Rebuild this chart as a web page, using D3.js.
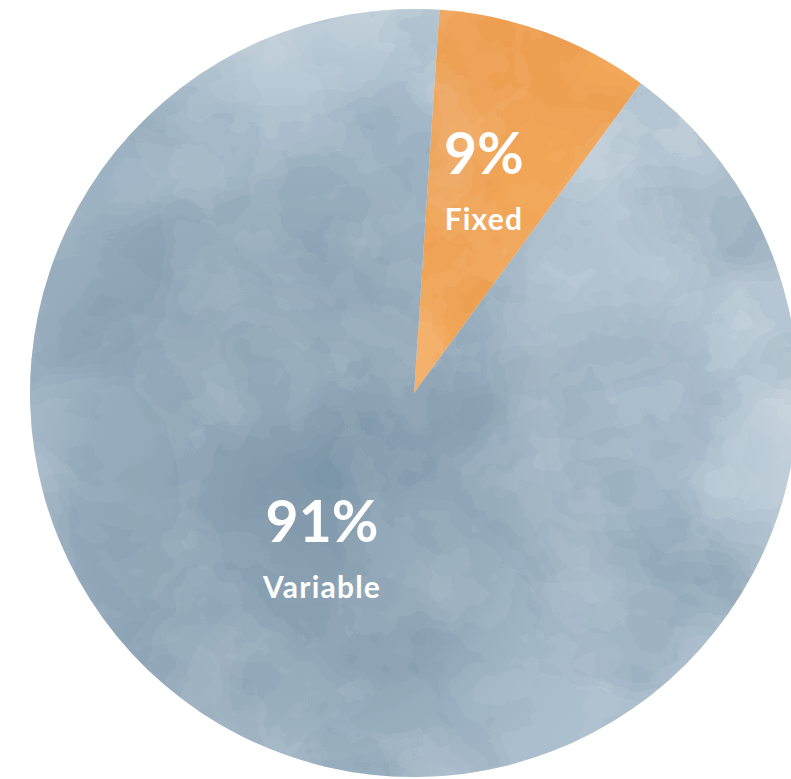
<!DOCTYPE html>
<html>
<head>
<meta charset="utf-8">
<title>Fixed vs Variable</title>
<script src="https://d3js.org/d3.v7.min.js"></script>
<style>
  body { margin: 0; background: #fff; }
  svg { display: block; }
  .pct { font-family: Lato, "Noto Sans", sans-serif; font-weight: 700; fill: #fff; }
  .name { font-family: Lato, "Noto Sans", sans-serif; font-weight: 700; fill: #fff; }
</style>
</head>
<body>
<script>
// data
const slices = ["Fixed", "Variable"];
const shares = [9, 91];
const sliceColors = ["#f2a85b", "#a8bccb"];
const blotchColors = ["#dc7e2e", "#5f7e95"];

const width = 791, height = 779;
const cx = 414, cy = 393, radius = 384;
const rotate = 3.8 * Math.PI / 180;           // where the first slice starts
const labelPos = [{ r: 230, a: 17.7 }, { r: 175, a: 211.7 }]; // baseline of the % line

const svg = d3.select("body").append("svg")
    .attr("width", width)
    .attr("height", height);

const defs = svg.append("defs");

// watercolour blotches: posterised noise used as alpha
function blotchFilter(id, color, seed, freq, table) {
  const f = defs.append("filter").attr("id", id)
      .attr("filterUnits", "userSpaceOnUse")
      .attr("x", cx - radius).attr("y", cy - radius)
      .attr("width", radius * 2).attr("height", radius * 2);
  f.append("feTurbulence").attr("type", "fractalNoise")
      .attr("baseFrequency", freq).attr("numOctaves", 5).attr("seed", seed).attr("result", "n");
  f.append("feColorMatrix").attr("in", "n").attr("type", "matrix")
      .attr("values", "0 0 0 0 0  0 0 0 0 0  0 0 0 0 0  1.6 0 0 0 -0.3").attr("result", "m");
  f.append("feComponentTransfer").attr("in", "m").attr("result", "p")
      .append("feFuncA").attr("type", "discrete").attr("tableValues", table);
  f.append("feFlood").attr("flood-color", color).attr("result", "c");
  f.append("feComposite").attr("in", "c").attr("in2", "p").attr("operator", "in");
}

blotchFilter("dark0", blotchColors[0], 12, "0.006 0.008", "0 0 0.06 0.12 0.18 0.24 0.3");
blotchFilter("light0", "#ffffff", 32, "0.008 0.007", "0 0 0 0.05 0.1 0.14");
blotchFilter("dark1", blotchColors[1], 11, "0.0045 0.006", "0 0 0.07 0.14 0.2 0.26 0.32 0.38");
blotchFilter("light1", "#ffffff", 31, "0.006 0.005", "0 0 0 0.05 0.1 0.14 0.18");

// big-scale shading: darker lower left centre, paler towards the right
const shade = defs.append("radialGradient").attr("id", "shade")
    .attr("gradientUnits", "userSpaceOnUse")
    .attr("cx", 290).attr("cy", 500).attr("r", 520);
shade.append("stop").attr("offset", "0%").attr("stop-color", "#4a667c").attr("stop-opacity", 0.3);
shade.append("stop").attr("offset", "40%").attr("stop-color", "#4a667c").attr("stop-opacity", 0.18);
shade.append("stop").attr("offset", "75%").attr("stop-color", "#ffffff").attr("stop-opacity", 0.04);
shade.append("stop").attr("offset", "100%").attr("stop-color", "#ffffff").attr("stop-opacity", 0.32);

const pie = d3.pie().sort(null)
    .startAngle(rotate).endAngle(rotate + 2 * Math.PI);
const arcs = pie(shares);
const arc = d3.arc().innerRadius(0).outerRadius(radius);

const g = svg.append("g").attr("transform", `translate(${cx},${cy})`);

arcs.forEach((d, i) => {
  defs.append("clipPath").attr("id", "clip" + i)
    .append("path").attr("d", arc(d)).attr("transform", `translate(${cx},${cy})`);
});

g.selectAll("path.slice")
  .data(arcs)
  .join("path")
    .attr("class", "slice")
    .attr("d", arc)
    .attr("fill", (d, i) => sliceColors[i]);

arcs.forEach((d, i) => {
  const layer = svg.append("g").attr("clip-path", `url(#clip${i})`);
  if (i === 1) {
    layer.append("rect")
      .attr("x", cx - radius).attr("y", cy - radius)
      .attr("width", radius * 2).attr("height", radius * 2)
      .attr("fill", "url(#shade)");
  }
  layer.append("rect")
    .attr("x", cx - radius).attr("y", cy - radius)
    .attr("width", radius * 2).attr("height", radius * 2)
    .attr("filter", `url(#dark${i})`);
  layer.append("rect")
    .attr("x", cx - radius).attr("y", cy - radius)
    .attr("width", radius * 2).attr("height", radius * 2)
    .attr("filter", `url(#light${i})`);
});

// labels
const labels = svg.append("g").selectAll("g")
  .data(arcs)
  .join("g")
    .attr("transform", (d, i) => {
      const a = labelPos[i].a * Math.PI / 180;
      return `translate(${cx + labelPos[i].r * Math.sin(a)},${cy - labelPos[i].r * Math.cos(a)})`;
    });

labels.append("text")
    .attr("class", "pct")
    .attr("text-anchor", "middle")
    .attr("font-size", 57)
    .text(d => d.data + "%");

labels.append("text")
    .attr("class", "name")
    .attr("text-anchor", "middle")
    .attr("y", 56)
    .attr("font-size", 30)
    .attr("letter-spacing", 1.2)
    .text((d, i) => slices[i]);
</script>
</body>
</html>
